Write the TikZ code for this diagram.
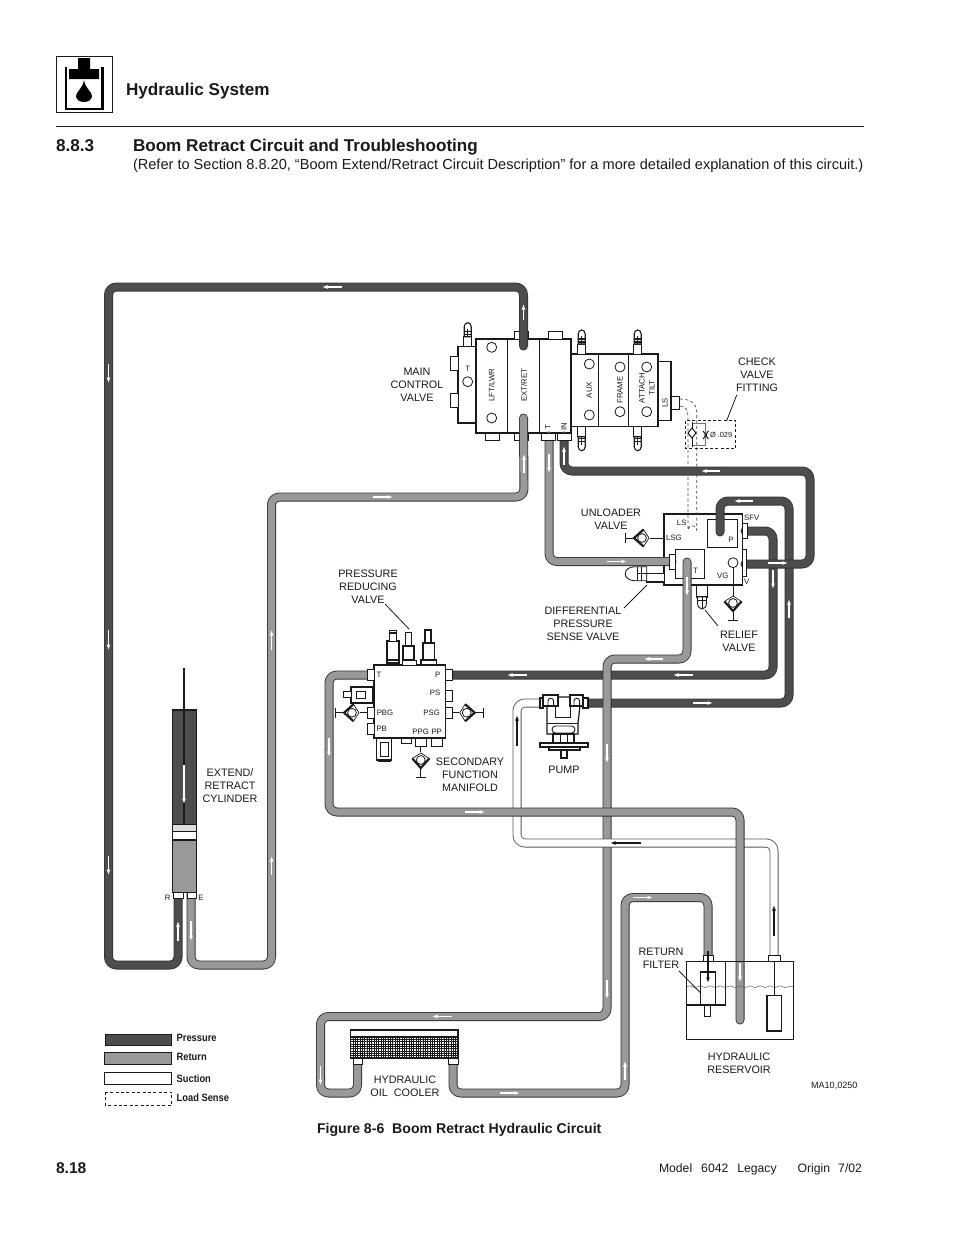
\documentclass[tikz,border=0pt]{standalone}
\usepackage{fontspec}
\setmainfont{Liberation Sans}
\usetikzlibrary{arrows.meta,decorations.pathmorphing}
\definecolor{pcol}{HTML}{4D4D4D}
\definecolor{rcol}{HTML}{999999}
\definecolor{ol}{HTML}{333333}
\definecolor{ink}{HTML}{1A1A1A}
\newcommand\flw[2]{\draw[flow] (#1) -- (#2);}
\newcommand\blk[2]{\draw[blkflow] (#1) -- (#2);}
\tikzset{
  x=1pt,y=-1pt,
  every node/.style={inner sep=0,outer sep=0,text=ink},
  lab/.style={align=center,font=\fontsize{10.8}{13}\selectfont},
  tiny/.style={font=\fontsize{7.8}{9}\selectfont},
  rlab/.style={font=\fontsize{7.8}{9}\selectfont,rotate=90},
  hose/.style={line join=round,rounded corners=8,line cap=round,line width=.9,double distance=7.2},
  press/.style={hose,draw=ol,double=pcol},
  ret/.style={hose,draw=ol,double=rcol},
  suct/.style={hose,draw=black!65,double=white},
  flow/.style={draw=white,line width=1.5,-{Latex[length=5.5pt,width=4pt]}},
  blkflow/.style={draw=black!90,line width=1.3,-{Latex[length=5.5pt,width=4pt]}},
  part/.style={draw=ink,line width=.9,fill=white},
  heavy/.style={draw=ink,line width=1.3,fill=white},
  pumpline/.style={draw=ink,line width=1.2,fill=white},
  leader/.style={draw=ink,line width=.8},
  sens/.style={draw=black!70,line width=.7,dash pattern=on 3pt off 2.4pt},
  gauge/.pic={
    \draw[ink,line width=.8] (-5,17) -- (5,17);
    \draw[ink,line width=1] (0,8) -- (0,17);
    \draw[ink,line width=.7,fill=white] (-8.5,-1.5) -- (0,-7) -- (8.5,-1.5) -- (0,8) -- cycle;
    \draw[ink,line width=2.1,line join=miter] (-8.5,-1.5) -- (0,8) -- (8.5,-1.5);
    \draw[ink,line width=.8,fill=white] (0,0) circle[radius=4.4];
  },
  stud/.pic={
    \draw[part] (-4,0) rectangle (4,-10);
    \draw[part,line width=1.1] (-3.5,-10) -- (-3.5,-20) arc[start angle=180,end angle=0,x radius=3.5,y radius=-4] -- (3.5,-10) -- cycle;
    \draw[ink,line width=1.1] (-3.5,-12) -- (3.5,-12) (-3.5,-15) -- (3.5,-15) (0,-10) -- (0,-18);
  },
}
\begin{document}
\begin{tikzpicture}
\useasboundingbox (0,0) rectangle (954,1235);
\fill[white] (0,0) rectangle (954,1235);

% ---------- header
\draw[ink,line width=1] (56.7,56) rectangle (112.7,112.3);
\draw[black,line width=2.4] (66,67) -- (66,109) -- (102.6,109) -- (102.6,67);
\fill[black] (78,58) rectangle (90,69) (69,69) rectangle (99,79);
\fill[black] (84,80) .. controls (85,88) and (92,92) .. (92,96) .. controls (92,104) and (76,104) .. (76,96) .. controls (76,92) and (83,88) .. (84,80) -- cycle;
\node[anchor=base west,font=\bfseries\fontsize{17.1}{20}\selectfont] (sys) at (126,95) {Hydraulic System};
\draw[ink,line width=.9] (56,126.5) -- (864,126.5);
\node[anchor=base west,font=\bfseries\fontsize{17.1}{20}\selectfont] (secno) at (56,151) {8.8.3};
\node[anchor=base west,font=\bfseries\fontsize{17.1}{20}\selectfont] (sectitle) at (133,151) {Boom Retract Circuit and Troubleshooting};
\node[anchor=base west,font=\fontsize{14.57}{17}\selectfont] (secref) at (133,169) {(Refer to Section 8.8.20, “Boom Extend/Retract Circuit Description” for a more detailed explanation of this circuit.)};

% ---------- main control valve blocks
\draw[heavy] (458,346.7) rectangle (476,423);
\draw[heavy] (476,339) rectangle (571,433);
\draw[heavy] (571,354) rectangle (658,426.7);
\draw[heavy] (658,361.7) rectangle (671,420.7);
\draw[ink,line width=.9] (507.3,339) -- (507.3,433) (539.3,339) -- (539.3,433) (598,354) -- (598,426.7) (628,354) -- (628,426.7);
\draw[part] (671,396) rectangle (679,409);
\draw[part] (450,356) rectangle (458,370.7) (450,393) rectangle (458,407);
\draw[part] (514,331.7) rectangle (528,339) (548,331.7) rectangle (562,339);
\draw[part] (485,433) rectangle (499,440) (514,433) rectangle (528,440);
\foreach \cx/\cy in {491.7/347.3,491.7/418,467.7/381.7,589.3/364,589.3/415,620/367,620/411.7,646.7/367,646.7/411.7}
  \draw[ink,line width=.8] (\cx,\cy) circle[radius=5];
\pic at (467.7,346.7) {stud};
\pic at (581.7,354) {stud};
\pic at (637.7,354) {stud};
\pic[rotate=180] at (581.7,426.7) {stud};
\pic[rotate=180] at (637.7,426.7) {stud};
\node[tiny] (tT) at (467.7,368.5) {T};
\node[rlab] (tLFT) at (491.7,385) {LFT/LWR};
\node[rlab] (tEXT) at (524,385) {EXT/RET};
\node[rlab] (tAUX) at (589.3,390) {AUX};
\node[rlab] (tFRAME) at (620,390) {FRAME};
\node[rlab] (tATT) at (642,388) {ATTACH};
\node[rlab] (tTILT) at (652,388) {TILT};
\node[rlab] (tTm) at (548,427) {T};
\node[rlab] (tIN) at (564,427) {IN};
\node[rlab] (tLS) at (665,403) {LS};

% hose end points
\coordinate (extTop) at (523.5,346);
\coordinate (extBot) at (523.5,418);
\coordinate (portT) at (549,436);
\coordinate (portIN) at (564,436);
\coordinate (cylR) at (178,892);
\coordinate (cylE) at (191,892);
\coordinate (ulTin) at (672,561.5);
\coordinate (ulV) at (745,564);
\coordinate (ulP) at (720,532);
\coordinate (ulSFV) at (745,531);
\coordinate (ulT) at (687,562);
\coordinate (mfP) at (450,675);
\coordinate (mfT) at (369,675);
\coordinate (pumpS) at (541,703);
\coordinate (pumpP) at (585,703);
\coordinate (coolIn) at (357.5,1062);
\coordinate (coolOut) at (453,1062);
\coordinate (filtIn) at (708,957);
\coordinate (resRet) at (740,1020);
\coordinate (resSuct) at (774,957);

% ---------- unloader valve
\draw[heavy] (664,514) rectangle (742.3,585);
\draw[part] (707.3,519.3) rectangle (737.3,547.7);
\draw[part] (675,549.3) rectangle (704,578.3);
\draw[ink,line width=.8] (733,562.7) circle[radius=5];
\draw[ink,line width=.8] (733,567.7) -- (733,597);
\pic at (733,603) {gauge};
\draw[ink,line width=.8] (664,538) -- (650,538);
\pic[rotate=-90] at (642,538) {gauge};
\node[tiny] (tuLS) at (681.7,522.7) {LS};
\node[tiny] (tuLSG) at (674,538) {LSG};
\node[tiny] (tuSFV) at (751.7,518) {SFV};
\node[tiny] (tuP) at (731,540) {P};
\node[tiny] (tuT) at (695.7,571) {T};
\node[tiny] (tuVG) at (722.7,576) {VG};
\node[tiny] (tuV) at (746.7,582) {V};
% differential pressure sense valve
\draw[part] (646.7,573) rectangle (664,582);
\draw[ink,line width=1.8] (646.7,582) -- (664,582);
\draw[part] (646.7,566.7) -- (635,566.7) .. controls (622,566.7) and (622,580.7) .. (635,580.7) -- (646.7,580.7) -- cycle;
\draw[ink,line width=.7] (637,566.7) -- (637,580.7) (641,566.7) -- (641,580.7) (637,573.7) -- (646.7,573.7);
% relief valve
\draw[part,line width=1.3] (696.7,585) rectangle (707.3,597);
\draw[part] (697.5,597) -- (697.5,603) .. controls (698,611) and (706,611) .. (706.5,603) -- (706.5,597) -- cycle;
\draw[ink,line width=.7] (697.5,600) -- (706.5,600) (702,597) -- (702,608);

% ---------- manifold
\draw[heavy] (374,665) rectangle (445.7,738);
\draw[part] (445.7,690) rectangle (452.3,701) (445.7,707) rectangle (452.3,718);
\draw[part] (367,707) rectangle (374,718) (367,723) rectangle (374,734);
\draw[part] (415,738) rectangle (426.7,746) (431.7,738) rectangle (442.3,746) (401.7,738) rectangle (411.7,743);
\draw[part,line width=1.2] (351,687) rectangle (374,703);
\draw[part] (356,691) rectangle (365,698);
\draw[part] (343,691.5) rectangle (351,697.5);
\draw[ink,line width=1.8] (373,687) -- (373,703);
\draw[part,line width=1.3] (376.7,738) rectangle (391.7,760);
\draw[part] (380,742) rectangle (388.5,756);
\draw[ink,line width=1.8] (378,761.5) -- (390.5,761.5);
% top valves
\draw[part,line width=1.2] (387,641) rectangle (399,663);
\draw[part] (389.5,630) rectangle (396.5,641);
\draw[ink,line width=1.2] (390,633) -- (396,633) (388,660) -- (398,660);
\draw[part] (405.5,632) rectangle (411.5,646);
\draw[part,line width=1.2] (403,646) rectangle (414,660);
\draw[part] (402,660) rectangle (416,665);
\draw[part,line width=1.3] (425,630) rectangle (431,643);
\draw[part,line width=1.2] (423,643) rectangle (434.5,660);
\draw[part,line width=1.2] (421,660) rectangle (436.5,665);
\draw[ink,line width=.8] (367,712.7) -- (360,712.7);
\pic[rotate=-90] at (352,712.7) {gauge};
\draw[ink,line width=.8] (452.3,712.7) -- (459,712.7);
\pic[rotate=90] at (466.7,712.7) {gauge};
\draw[ink,line width=.8] (420.8,746) -- (420.8,752);
\pic at (420.8,760) {gauge};
\node[tiny] (tmT) at (379,675) {T};
\node[tiny] (tmP) at (437.7,675) {P};
\node[tiny] (tmPS) at (435,692.7) {PS};
\node[tiny] (tmPBG) at (385,712.7) {PBG};
\node[tiny] (tmPSG) at (431.7,712.7) {PSG};
\node[tiny] (tmPB) at (381.7,729) {PB};
\node[tiny] (tmPPG) at (420.7,732) {PPG};
\node[tiny] (tmPP) at (436.7,732) {PP};

% ---------- load sense lines (under the hoses)
\draw[sens] (680,399) .. controls (690,399) and (696.7,403) .. (696.7,412) -- (696.7,530) arc[start angle=0,end angle=180,radius=4.35,y radius=-4.35] -- (688,416) .. controls (688,410) and (685,406) .. (680,406);

% ---------- pressure hoses
\draw[press] (extTop) -- (523.5,287) -- (108.5,287) -- (108.5,965) -- (178,965) -- (cylR);
\draw[press] (ulP) -- (720,501) -- (789,501) -- (789,703) -- (pumpP);
\draw[press] (ulSFV) -- (773,531) -- (773,675) -- (mfP);
\draw[press] (portIN) -- (564,471) -- (810,471) -- (810,564) -- (ulV);

% ---------- return hoses
\draw[ret] (cylE) -- (191,965) -- (271.5,965) -- (271.5,497) -- (524,497) -- (extBot);
\draw[ret] (portT) -- (549,561.5) -- (ulTin);
\draw[ret] (ulT) -- (687,659) -- (607,659) -- (607,1016.5) -- (320.5,1016.5) -- (320.5,1093) -- (357.5,1093) -- (coolIn);
\draw[ret] (coolOut) -- (453,1093) -- (625,1093) -- (625,897.5) -- (708,897.5) -- (filtIn);
% ---------- suction hose
\draw[suct] (pumpS) -- (517,703) -- (517,843) -- (774,843) -- (resSuct);
\draw[ret] (mfT) -- (329,675) -- (329,812) -- (740,812) -- (resRet);

% ---------- ports that sit over the hose ends
\draw[part] (541,433) rectangle (555,440) (557,433) rectangle (571,440);
\draw[part] (669,554) rectangle (675,569);
\draw[part] (742,523) rectangle (747.6,538);
\draw[part] (742,549) rectangle (746.5,576.7);
\draw[part] (445.7,669) rectangle (452.3,680);
\draw[part] (367,669) rectangle (374,680);

% ---------- check valve fitting
\draw[ink,line width=.8,dash pattern=on 3pt off 2.2pt] (685.7,420.7) rectangle (735.7,448.3);
\draw[black!55,line width=.9] (692,423) -- (705,423) -- (705,445) -- (692,445);
\draw[ink,line width=.9] (692,422) -- (692,447);
\draw[ink,line width=1,fill=white] (692,428) -- (696,433) -- (692,438) -- (688,433) -- cycle;
\draw[ink,line width=1] (703,431) .. controls (706,434) and (706,436) .. (703,439) (708.5,431) .. controls (705.5,434) and (705.5,436) .. (708.5,439);
\node[anchor=west,font=\fontsize{7.4}{9}\selectfont] (torf) at (710,435) {Ø .029};

% ---------- cylinder
\draw[ink,line width=1.3,fill=pcol] (172.7,710) rectangle (196.7,824.3);
\draw[ink,line width=1.3,fill=black!13] (172.7,824.3) rectangle (196.7,831.7);
\draw[ink,line width=1.3,fill=white] (172.7,831.7) rectangle (196.7,840);
\draw[ink,line width=1.3,fill=rcol] (172.7,840) rectangle (196.7,892.3);
\draw[ink,line width=1.1] (184,668) -- (184,824);
\draw[part] (173,892.3) rectangle (183,898);
\draw[part] (187,892.3) rectangle (196,898);
\node[tiny] (tR) at (167.7,898) {R};
\node[tiny] (tE) at (201,898) {E};

% ---------- pump
\draw[pumpline] (540,698) rectangle (543,708) (583,698) rectangle (588,708);
\draw[pumpline] (547,697) -- (581,697) -- (578,723) -- (578,734) -- (547,734) -- (547,723) -- cycle;
\draw[ink,line width=1] (555,700) -- (555,717) -- (570,717) -- (570,700);
\draw[ink,line width=1] (547,723) -- (578,723);
\draw[pumpline] (543,695) rectangle (558,706);
\draw[pumpline] (570,695) rectangle (583,706);
\draw[ink,line width=.9] (548,705) -- (548,701) arc[start angle=180,end angle=0,radius=2.8,y radius=-2.8] -- (553.6,705) (574,705) -- (574,701) arc[start angle=180,end angle=0,radius=2.8,y radius=-2.8] -- (579.6,705);
\draw[ink,line width=.9,rounded corners=3.5] (552,726) rectangle (575,733);
\draw[pumpline] (553,734) rectangle (574,743);
\draw[ink,line width=.9] (560,734) -- (560,743) (567,734) -- (567,743);
\draw[pumpline,line width=1.4] (540,743) rectangle (588,747);
\draw[pumpline] (549,747) rectangle (580,750);
\draw[pumpline] (561,750) rectangle (567,758);

% ---------- cooler
\draw[heavy] (350.7,1030) rectangle (458,1058);
\foreach \gx in {0,...,46} \draw[ink,line width=.45] (350.7+\gx*2.33,1037) -- (350.7+\gx*2.33,1058);
\foreach \gy in {0,...,9} \draw[ink,line width=.45] (350.7,1037+\gy*2.33) -- (458,1037+\gy*2.33);
\draw[ink,line width=1.3] (350.7,1037) -- (458,1037);
\draw[ink,line width=1.3] (350.7,1030) rectangle (458,1058);
\draw[part] (353,1058) rectangle (362,1064) (448,1058) rectangle (458,1064);

% ---------- reservoir
\draw[ink,line width=.9] (686.7,961) rectangle (793.3,1039.3);
\draw[ink,line width=.9] (725.7,961) -- (725.7,1005);
\draw[ink,line width=1.5] (686.7,1005) -- (725.7,1005);
\draw[black!60,line width=.5,decorate,decoration={snake,amplitude=.9,segment length=10}] (687,986.7) -- (793,986.7);
\draw[ink,line width=1.2] (700.7,972) rectangle (715.7,1005);
\draw[ink,line width=1.2,fill=white] (704.7,1005) rectangle (710.7,1016.5);
\draw[part] (703,955) rectangle (713,961) (768,955) rectangle (780.7,961);
\draw[ink,line width=.8] (774,961) -- (774,996);
\draw[ink,line width=1.4,fill=white] (767,995.7) rectangle (781.7,1031);

% ---------- flow arrows
\flw{342,287}{322,287}
\flw{523.5,320}{523.5,304}
\flw{108.5,364}{108.5,383}
\flw{108.5,630}{108.5,650}
\flw{108.5,856}{108.5,875}
\flw{178,941}{178,921}
\flw{191,921}{191,941}
\flw{271.5,875}{271.5,856}
\flw{271.5,650}{271.5,630}
\flw{373,497}{393,497}
\flw{524,473}{524,454}
\flw{549,454}{549,473}
\flw{607,561.5}{627,561.5}
\flw{564,465}{564,446}
\flw{720,471}{701,471}
\flw{768,563}{788,563}
\flw{753,501}{734,501}
\flw{773,570}{773,589}
\flw{789,618}{789,599}
\flw{693,675}{673,675}
\flw{527,675}{507,675}
\flw{693,703}{713,703}
\flw{687,577}{687,596}
\flw{663,659}{644,659}
\flw{607,744}{607,763}
\flw{607,980}{607,999}
\flw{452,1016.5}{432,1016.5}
\flw{320.5,1066}{320.5,1085}
\flw{500,1093}{520,1093}
\flw{625,1080}{625,1061}
\flw{633,897.5}{653,897.5}
\flw{329,738}{329,757}
\flw{465,812}{485,812}
\flw{740,963}{740,982}
\flw{184,765}{184,804}
\blk{517,746}{517,715}
\blk{641,843}{610,843}
\blk{774,936}{774,905}
\blk{708,951}{708,983}

% ---------- labels
\node[lab] (lMCV) at (417,384.5) {MAIN\\CONTROL\\VALVE};
\node[lab] (lCVF) at (757,374.5) {CHECK\\VALVE\\FITTING};
\node[lab] (lUV) at (611,519) {UNLOADER\\VALVE};
\node[lab] (lPRV) at (368,586.5) {PRESSURE\\REDUCING\\VALVE};
\node[lab] (lDPS) at (583,623.5) {DIFFERENTIAL\\PRESSURE\\SENSE VALVE};
\node[lab] (lRV) at (739,641) {RELIEF\\VALVE};
\node[lab] (lSFM) at (470,774.5) {SECONDARY\\FUNCTION\\MANIFOLD};
\node[lab] (lPUMP) at (564,769.5) {PUMP};
\node[lab] (lCYL) at (230,785.5) {EXTEND/\\RETRACT\\CYLINDER};
\node[lab] (lRF) at (661,958) {RETURN\\FILTER};
\node[lab] (lHR) at (739,1063) {HYDRAULIC\\RESERVOIR};
\node[lab] (lHOC) at (405,1086) {HYDRAULIC\\OIL\ \ COOLER};
\node[anchor=west,font=\fontsize{9.1}{10}\selectfont] (lMA) at (811,1086) {MA10,0250};

% ---------- leaders
\draw[leader] (726.7,420.7) -- (736.7,395);
\draw[leader] (385,604) -- (409,629);
\draw[leader] (624,608) -- (647,585);
\draw[leader] (718,626) -- (705,610);
\draw[leader] (679,971) -- (700.7,993);

% ---------- legend
\draw[ink,line width=1,fill=pcol] (105,1034) rectangle (171.7,1045.7);
\draw[ink,line width=1,fill=rcol] (104,1052.7) rectangle (171.7,1064);
\draw[ink,line width=1,fill=white] (104,1072) rectangle (171.7,1084);
\draw[ink,line width=.8,dash pattern=on 3pt off 2.4pt] (105,1092) rectangle (171.7,1105);
\node[anchor=west,font=\bfseries\fontsize{10.6}{12}\selectfont,xscale=.88] (lgP) at (176.7,1038) {Pressure};
\node[anchor=west,font=\bfseries\fontsize{10.6}{12}\selectfont,xscale=.88] (lgR) at (176.7,1057) {Return};
\node[anchor=west,font=\bfseries\fontsize{10.6}{12}\selectfont,xscale=.88] (lgS) at (176.7,1079) {Suction};
\node[anchor=west,font=\bfseries\fontsize{10.6}{12}\selectfont,xscale=.88] (lgL) at (176.7,1098) {Load Sense};

% ---------- footer
\node[anchor=base west,font=\bfseries\fontsize{14.1}{15}\selectfont] (fig) at (317,1133) {Figure 8-6\ \ Boom Retract Hydraulic Circuit};
\node[anchor=base west,font=\bfseries\fontsize{15.6}{17}\selectfont] (pg) at (56,1173) {8.18};
\node[anchor=base east,font=\fontsize{12.2}{14}\selectfont] (model) at (862,1172) {Model\hspace{9pt}6042\hspace{9pt}Legacy\hspace{21pt}Origin\hspace{8pt}7/02};
\end{tikzpicture}
\end{document}
